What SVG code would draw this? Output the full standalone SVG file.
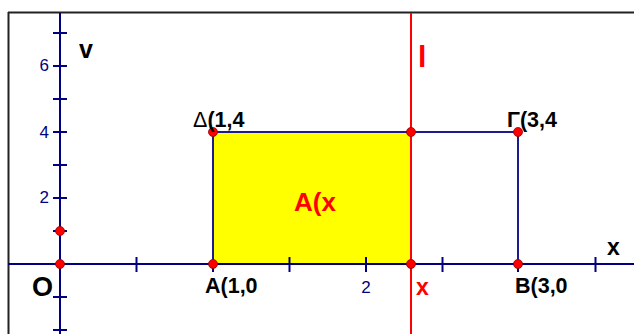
<svg xmlns="http://www.w3.org/2000/svg" width="634" height="334" viewBox="0 0 634 334">
<style>
.axis{stroke:#000080;stroke-width:2;fill:none}
.tick{stroke:#000080;stroke-width:2}
.edge{stroke:#1c1c90;stroke-width:2;fill:none}
.num{font-family:"Liberation Sans",Arial,sans-serif;font-size:17px;fill:#000080}
.lbl{font-family:"Liberation Sans",Arial,sans-serif;font-size:21.5px;font-weight:bold;fill:#000}
.red{font-family:"Liberation Sans",Arial,sans-serif;font-weight:bold;fill:#ff0000}
.pt{fill:#ff0000;stroke:#900000;stroke-width:0.8}
</style>
<defs>
<circle id="dot" r="4.5" class="pt"/>
</defs>
<rect width="634" height="334" fill="#fff"/>
<g id="frame">
<line x1="8" y1="12.5" x2="634" y2="12.5" stroke="#222" stroke-width="2"/>
<line x1="8.5" y1="12" x2="8.5" y2="334" stroke="#222" stroke-width="2"/>
</g>
<g id="area">
<rect x="213" y="132" width="198" height="132" fill="#ffff00"/>
</g>
<g id="connectors">
<line class="axis" x1="8" y1="264" x2="634" y2="264"/>
<line class="axis" x1="60" y1="13" x2="60" y2="334"/>
<g>
<line class="tick" x1="53" y1="33" x2="67" y2="33"/>
<line class="tick" x1="53" y1="66" x2="67" y2="66"/>
<line class="tick" x1="53" y1="99" x2="67" y2="99"/>
<line class="tick" x1="53" y1="132" x2="67" y2="132"/>
<line class="tick" x1="53" y1="165" x2="67" y2="165"/>
<line class="tick" x1="53" y1="198" x2="67" y2="198"/>
<line class="tick" x1="53" y1="231" x2="67" y2="231"/>
<line class="tick" x1="53" y1="297" x2="67" y2="297"/>
<line class="tick" x1="53" y1="330" x2="67" y2="330"/>
</g>
<g>
<line class="tick" x1="136.5" y1="257" x2="136.5" y2="272"/>
<line class="tick" x1="213" y1="257" x2="213" y2="272"/>
<line class="tick" x1="289.5" y1="257" x2="289.5" y2="272"/>
<line class="tick" x1="366" y1="257" x2="366" y2="272"/>
<line class="tick" x1="442.5" y1="257" x2="442.5" y2="272"/>
<line class="tick" x1="518" y1="257" x2="518" y2="272"/>
<line class="tick" x1="595.5" y1="257" x2="595.5" y2="272"/>
</g>
<polyline class="edge" points="213,264 213,132 518,132 518,264"/>
<line x1="411" y1="13" x2="411" y2="334" stroke="#ff0000" stroke-width="2"/>
</g>
<g id="axis-labels">
<text class="num" x="49" y="71" text-anchor="end">6</text>
<text class="num" x="49" y="138" text-anchor="end">4</text>
<text class="num" x="49" y="203" text-anchor="end">2</text>
<text class="num" x="366" y="293" text-anchor="middle">2</text>
<text x="79" y="58" font-family="Liberation Sans,Arial,sans-serif" font-size="25" font-weight="bold" fill="#000">v</text>
<text x="607" y="255" font-family="Liberation Sans,Arial,sans-serif" font-size="23" font-weight="bold" fill="#000">x</text>
<text x="32" y="296" font-family="Liberation Sans,Arial,sans-serif" font-size="27" font-weight="bold" fill="#000">O</text>
</g>
<g id="line-l">
<text class="red" x="418" y="67" font-size="30">l</text>
<text class="red" x="416" y="295" font-size="23">x</text>
</g>
<g id="label-area">
<text class="red" x="294" y="211" font-size="26">A(x</text>
</g>
<g id="point-O"><use href="#dot" x="60" y="264"/></g>
<g id="point-U"><use href="#dot" x="60" y="231"/></g>
<g id="point-A"><use href="#dot" x="213" y="264"/><text class="lbl" x="205" y="293">A(1,0</text></g>
<g id="point-D"><use href="#dot" x="213" y="132"/><text class="lbl" x="193" y="127"><tspan font-weight="normal">Δ</tspan>(1,4</text></g>
<g id="point-P"><use href="#dot" x="411" y="132"/></g>
<g id="point-Q"><use href="#dot" x="411" y="264"/></g>
<g id="point-G"><use href="#dot" x="518" y="132"/><text class="lbl" x="507" y="127">Γ(3,4</text></g>
<g id="point-B"><use href="#dot" x="518" y="264"/><text class="lbl" x="515" y="293">B(3,0</text></g>
</svg>
